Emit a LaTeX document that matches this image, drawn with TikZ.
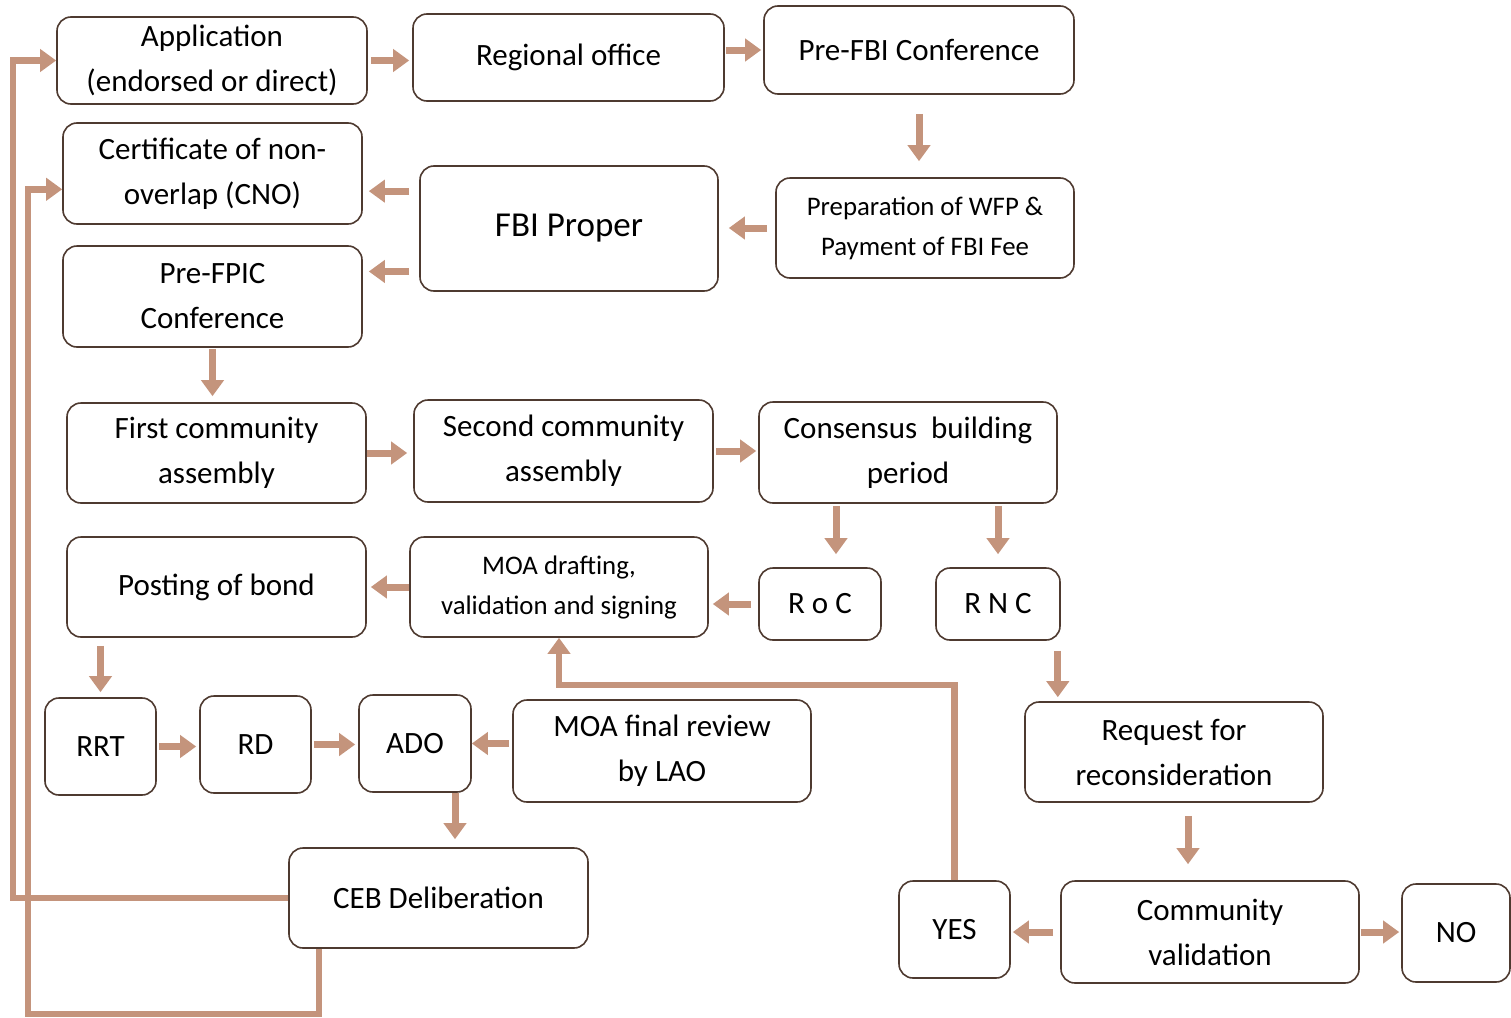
\documentclass[tikz,border=0pt]{standalone}
\usepackage{fontspec}
\setmainfont{Carlito}
\usetikzlibrary{arrows.meta,calc}
\definecolor{boxline}{RGB}{78,58,48}
\definecolor{arrowtan}{RGB}{196,148,124}
\begin{document}
\begin{tikzpicture}[x=1pt,y=-1pt,
  box/.style={draw=boxline,line width=1.6pt,rounded corners=14pt,fill=white,inner sep=0pt,align=center,font=\fontsize{31}{45}\selectfont},
  smallbox/.style={box,font=\fontsize{26.8}{40}\selectfont},
  arr/.style={draw=arrowtan,line width=7pt,-{Triangle[length=16pt,width=22pt]}},
  back/.style={arr,line width=6.5pt}]
\useasboundingbox (0,0) rectangle (1511,1017);
\node[box,minimum width=310pt,minimum height=87pt] (app) at (212,60.5) {Application\\(endorsed or direct)};
\node[box,minimum width=311pt,minimum height=87pt] (reg) at (568.5,57.5) {Regional office};
\node[box,minimum width=310pt,minimum height=88pt] (prefbi) at (919,50) {Pre-FBI Conference};
\node[box,minimum width=299pt,minimum height=101pt] (cno) at (212.5,173.5) {Certificate of non-\\overlap (CNO)};
\node[box,minimum width=298pt,minimum height=125pt,font=\fontsize{35}{45}\selectfont] (fbi) at (569,228.5) {FBI Proper};
\node[smallbox,minimum width=298pt,minimum height=100pt] (prep) at (925,228) {Preparation of WFP \&\\Payment of FBI Fee};
\node[box,minimum width=299pt,minimum height=101pt] (prefpic) at (212.5,296.5) {Pre-FPIC\\Conference};
\node[box,minimum width=299pt,minimum height=100pt] (first) at (216.5,453) {First community\\assembly};
\node[box,minimum width=299pt,minimum height=102pt] (second) at (563.5,451) {Second community\\assembly};
\node[box,minimum width=298pt,minimum height=101pt] (consensus) at (908,452.5) {Consensus\ \ building\\period};
\node[box,minimum width=299pt,minimum height=100pt] (posting) at (216.5,587) {Posting of bond};
\node[smallbox,minimum width=298pt,minimum height=100pt] (moa) at (559,587) {MOA drafting,\\validation and signing};
\node[box,minimum width=122pt,minimum height=72pt] (roc) at (820,604) {R o C};
\node[box,minimum width=124pt,minimum height=72pt] (rnc) at (998,604) {R N C};
\node[box,minimum width=111pt,minimum height=97pt] (rrt) at (100.5,746.5) {RRT};
\node[box,minimum width=111pt,minimum height=97pt] (rd) at (255.5,744.5) {RD};
\node[box,minimum width=112pt,minimum height=97pt] (ado) at (415,743.5) {ADO};
\node[box,minimum width=298pt,minimum height=102pt] (final) at (662,751) {MOA final review\\by LAO};
\node[box,minimum width=298pt,minimum height=100pt] (request) at (1174,752) {Request for\\reconsideration};
\node[box,minimum width=299pt,minimum height=100pt] (ceb) at (438.5,898) {CEB Deliberation};
\node[box,minimum width=111pt,minimum height=97pt] (yes) at (954.5,929.5) {YES};
\node[box,minimum width=298pt,minimum height=102pt] (community) at (1210,932) {Community\\validation};
\node[box,minimum width=108pt,minimum height=98pt] (no) at (1456,933) {NO};
\coordinate (rocin) at ($(roc.north)+(16,0)$);
\coordinate (adoout) at ($(ado.south)+(40,0)$);
\coordinate (rncout) at ($(rnc.south east)+(-3,0)$);
\coordinate (requestout) at ($(request.south)+(14,0)$);
\coordinate (cebout) at ($(ceb.south west)+(31,0)$);
\draw[arr,shorten <=3pt,shorten >=3pt] (app.east) -- (reg.west |- app.east);
\draw[arr,shorten <=1pt,shorten >=2pt] (prefbi.west -| reg.east) -- (prefbi.west);
\draw[arr,shorten <=19pt,shorten >=16pt] (prefbi.south) -- (prefbi.south |- prep.north);
\draw[arr,shorten <=8pt,shorten >=10pt] (prep.west) -- (fbi.east |- prep.west);
\draw[arr,shorten <=10pt,shorten >=6pt] (fbi.166) -- (cno.east |- fbi.166);
\draw[arr,shorten <=10pt,shorten >=6pt] (fbi.196) -- (prefpic.east |- fbi.196);
\draw[arr,shorten <=1pt,shorten >=6pt] (prefpic.south) -- (prefpic.south |- first.north);
\draw[arr,shorten >=6pt] (first.east) -- (second.west |- first.east);
\draw[arr,shorten <=2pt,shorten >=2pt] (second.east) -- (consensus.west |- second.east);
\draw[arr,shorten <=2pt,shorten >=13pt] (rocin |- consensus.south) -- (rocin);
\draw[arr,shorten <=2pt,shorten >=13pt] (rnc.north |- consensus.south) -- (rnc.north);
\draw[arr,shorten <=7pt,shorten >=4pt] (roc.west) -- (moa.east |- roc.west);
\draw[arr,shorten >=4pt] (moa.west) -- (posting.east |- moa.west);
\draw[arr,shorten <=8pt,shorten >=5pt] (rrt.north |- posting.south) -- (rrt.north);
\draw[arr,shorten <=2pt,shorten >=3pt] (rrt.east) -- (rd.west |- rrt.east);
\draw[arr,shorten <=2pt,shorten >=3pt] (rd.east) -- (ado.west |- rd.east);
\draw[arr,shorten <=3pt] (final.west |- ado.east) -- (ado.east);
\draw[arr,shorten >=8pt] (adoout) -- (adoout |- ceb.north);
\draw[arr,shorten <=10pt,shorten >=4pt] (rncout) -- (rncout |- request.north);
\draw[arr,shorten <=13pt,shorten >=16pt] (requestout) -- (requestout |- community.north);
\draw[arr,shorten <=7pt,shorten >=2pt] (community.west) -- (yes.east |- community.west);
\draw[arr,shorten <=1pt,shorten >=2pt] (community.east) -- (no.west |- community.east);
\draw[back] (ceb.west) -- ++(-275,0) |- (app.west);
\draw[back] (cebout) -- ++(0,65) -- ++(-291,0) |- (cno.186);
\draw[back] (yes.north) -- ++(0,-195) -| (moa.south);
\end{tikzpicture}
\end{document}
